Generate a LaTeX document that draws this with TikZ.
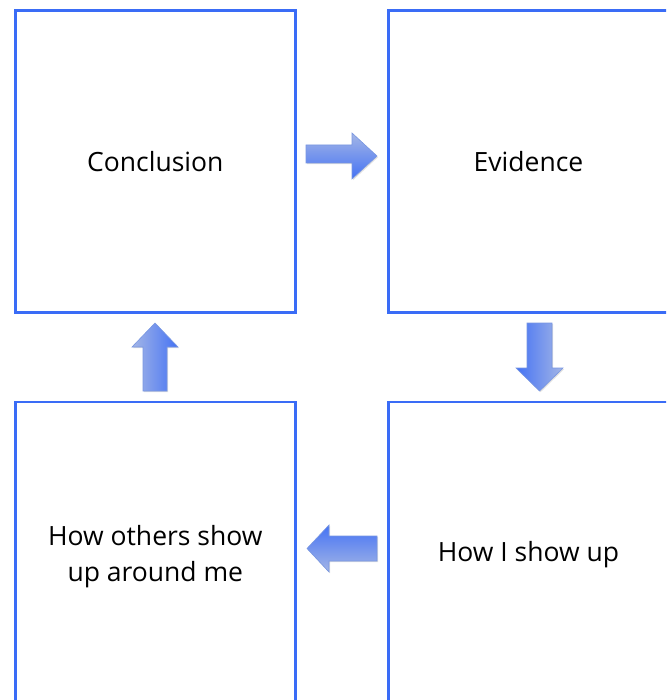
\documentclass[tikz,border=0pt]{standalone}
\usepackage{fontspec}
\setmainfont{Open Sans}
\usetikzlibrary{shadows}
\definecolor{boxblue}{RGB}{58,108,246}
\definecolor{arrdark}{RGB}{68,114,244}
\definecolor{arrlight}{RGB}{164,182,230}
\definecolor{arredge}{RGB}{120,150,225}
\tikzset{
  box/.style={draw=boxblue, line width=2.6pt, minimum width=280pt, minimum height=302pt,
    inner sep=0pt},
  lbl/.style={inner sep=0pt, align=center, font=\fontsize{26.5}{36.7}\selectfont, text=black},
  blockarrow/.style={draw=arredge, line width=0.6pt, line join=miter,
    drop shadow={opacity=0.25, shadow xshift=1pt, shadow yshift=-1.2pt}},
}
\begin{document}
\begin{tikzpicture}[x=1pt, y=-1pt]
\useasboundingbox (0,0) rectangle (666,700);
\clip (0,0) rectangle (666,700);
\fill[white] (0,0) rectangle (666,700);
\node[box] (concl) at (155.3,161.5) {};
\node[box] (evid) at (528.5,161.5) {};
\node[box] (show) at (528.5,553) {};
\node[box] (others) at (155.3,553) {};
\node[lbl, anchor=base] (tconcl) at (155.3,172) {Conclusion};
\node[lbl, anchor=base] (tevid) at (528.5,172) {Evidence};
\node[lbl, anchor=base] (tshow) at (528.5,561.7) {How I show up};
\node[lbl] (tothers) at (155.3,556.5) {How others show\\up around me};
% right arrow (Conclusion -> Evidence)
\shade[blockarrow, top color=arrlight, bottom color=arrdark]
  (306,145) -- (352,145) -- (352,133) -- (377,156) -- (352,179) -- (352,163) -- (306,163) -- cycle;
% down arrow (Evidence -> How I show up)
\shade[blockarrow, left color=arrdark, right color=arrlight]
  (527,323) -- (552,323) -- (552,368) -- (563,368) -- (539.5,391) -- (516,368) -- (527,368) -- cycle;
% left arrow (How I show up -> How others)
\shade[blockarrow, top color=arrdark, bottom color=arrlight]
  (377,536) -- (329,536) -- (329,525) -- (307,548.5) -- (329,572) -- (329,561) -- (377,561) -- cycle;
% up arrow (How others -> Conclusion)
\shade[blockarrow, left color=arrlight, right color=arrdark]
  (143,391) -- (143,347) -- (132,347) -- (155,323) -- (178,347) -- (167,347) -- (167,391) -- cycle;
\end{tikzpicture}
\end{document}
